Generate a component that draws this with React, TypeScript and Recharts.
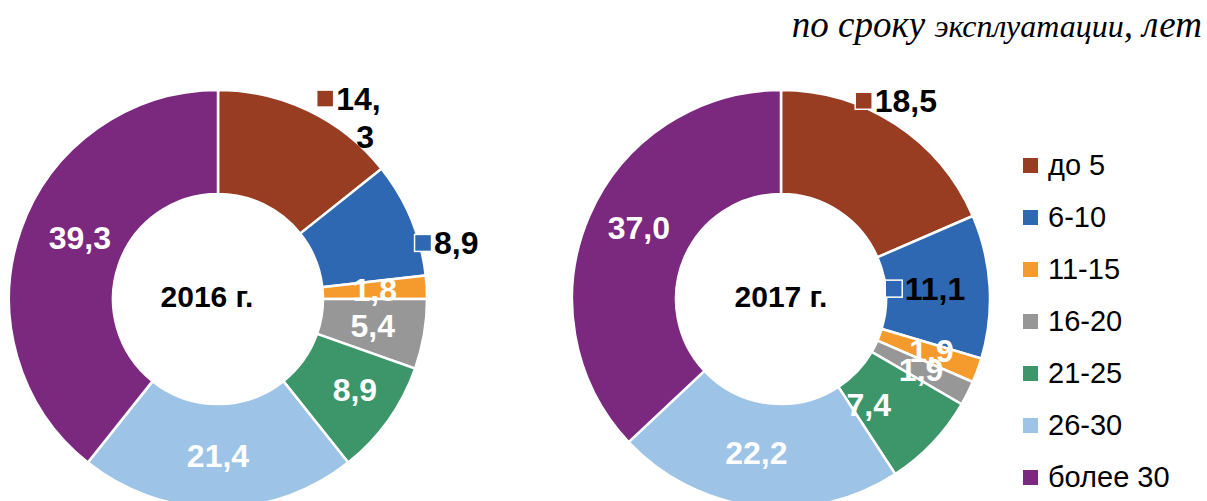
import React from 'react';
import { PieChart, Pie, Cell, Legend } from 'recharts';

const categories = ['до 5', '6-10', '11-15', '16-20', '21-25', '26-30', 'более 30'];
const values2016 = [14.3, 8.9, 1.8, 5.4, 8.9, 21.4, 39.3];
const values2017 = [18.5, 11.1, 1.9, 1.9, 7.4, 22.2, 37.0];
const years = ['2016 г.', '2017 г.'];
const colors = ['#993D22', '#2E67B2', '#F59A2D', '#979797', '#3C9669', '#9DC3E6', '#7B287F'];

const data2016 = categories.map((name, i) => ({ name, value: values2016[i] }));
const data2017 = categories.map((name, i) => ({ name, value: values2017[i] }));

// how each data label is drawn: white inside, or black with a key square (Excel style)
type LabelCfg = { out?: boolean; dx?: number; dy?: number; wrap?: boolean };
const labels2016: LabelCfg[] = [
  { out: true, dx: 39, dy: -59, wrap: true },
  { out: true, dx: 60, dy: 4 },
  {},
  {},
  { dx: 9 },
  {},
  { dx: 10, dy: -9 },
];
const labels2017: LabelCfg[] = [
  { out: true, dx: -3.5, dy: -67 },
  { out: true, dx: -44, dy: -1 },
  { dx: 3, dy: -2 },
  {},
  { dx: -26, dy: -2 },
  { dx: -6, dy: -2 },
  { dx: 2, dy: -9 },
];

const FONT = "'Liberation Sans', Arial, sans-serif";
const LABEL_SIZE = 32;
const RADIAN = Math.PI / 180;
const fmt = (v: number) => v.toFixed(1).replace('.', ',');

const makeLabel = (cfg: LabelCfg[], title: string, titleDx: number) => (props: any) => {
  const { cx, cy, midAngle, innerRadius, outerRadius, index, value } = props;
  const r = (innerRadius + outerRadius) / 2;
  const c = cfg[index] || {};
  const px = cx + r * Math.cos(-midAngle * RADIAN) + (c.dx || 0);
  const py = cy + r * Math.sin(-midAngle * RADIAN) + (c.dy || 0);
  const text = fmt(value);
  let mark;
  if (c.out) {
    const tx = px + 11;
    if (c.wrap) {
      const [a, b] = text.split(',');
      mark = (
        <g>
          <rect x={px - 8.5} y={py - 8.5} width={17} height={17} fill={colors[index]} stroke="#fff" strokeWidth={1.5} />
          <text x={tx} y={py} fontFamily={FONT} fontWeight="bold" fontSize={LABEL_SIZE} fill="#000" dominantBaseline="central">{a + ','}</text>
          <text x={tx + 29} y={py + 38} fontFamily={FONT} fontWeight="bold" fontSize={LABEL_SIZE} fill="#000" textAnchor="middle" dominantBaseline="central">{b}</text>
        </g>
      );
    } else {
      mark = (
        <g>
          <rect x={px - 8.5} y={py - 8.5} width={17} height={17} fill={colors[index]} stroke="#fff" strokeWidth={1.5} />
          <text x={tx} y={py} fontFamily={FONT} fontWeight="bold" fontSize={LABEL_SIZE} fill="#000" dominantBaseline="central">{text}</text>
        </g>
      );
    }
  } else {
    mark = (
      <text x={px} y={py} fontFamily={FONT} fontWeight="bold" fontSize={LABEL_SIZE} fill="#fff" textAnchor="middle" dominantBaseline="central">{text}</text>
    );
  }
  if (index === 0) {
    return (
      <g>
        <text x={cx + titleDx} y={cy - 3} fontFamily={FONT} fontWeight="bold" fontSize={30} fill="#000" textAnchor="middle" dominantBaseline="central">{title}</text>
        {mark}
      </g>
    );
  }
  return mark;
};

const LegendBox = () => (
  <div style={{ fontFamily: FONT, fontSize: 29, color: '#000' }}>
    {categories.map((name, i) => (
      <div key={name} style={{ height: 52, display: 'flex', alignItems: 'center' }}>
        <span style={{ display: 'inline-block', width: 15, height: 15, background: colors[i], marginLeft: 1, marginRight: 10 }} />
        <span>{name}</span>
      </div>
    ))}
  </div>
);

const App: React.FC = () => {
  return (
    <div style={{ position: 'absolute', left: 0, top: 0, width: 1207, height: 501, background: '#fff', overflow: 'hidden' }}>
      <div style={{ position: 'absolute', right: 5, top: 3, fontFamily: "'Liberation Serif', 'Times New Roman', serif", fontStyle: 'italic', fontSize: 37, whiteSpace: 'nowrap' }}>
        по сроку <span style={{ fontSize: 32 }}>эксплуатации</span>, лет
      </div>
      <PieChart width={1207} height={501} margin={{ top: 0, right: 0, bottom: 0, left: 0 }} style={{ position: 'absolute', left: 0, top: 0 }}>
        <Pie
          data={data2016}
          dataKey="value"
          nameKey="name"
          cx={218}
          cy={299}
          innerRadius={105}
          outerRadius={209}
          startAngle={90}
          endAngle={-270}
          stroke="#fff"
          strokeWidth={2.5}
          labelLine={false}
          label={makeLabel(labels2016, years[0], -11)}
          isAnimationActive={false}
        >
          {data2016.map((d, i) => <Cell key={d.name} fill={colors[i]} />)}
        </Pie>
        <Pie
          data={data2017}
          dataKey="value"
          nameKey="name"
          cx={781}
          cy={299}
          innerRadius={105}
          outerRadius={209}
          startAngle={90}
          endAngle={-270}
          stroke="#fff"
          strokeWidth={2.5}
          labelLine={false}
          label={makeLabel(labels2017, years[1], 0)}
          legendType="none"
          isAnimationActive={false}
        >
          {data2017.map((d, i) => <Cell key={d.name} fill={colors[i]} />)}
        </Pie>
        <Legend
          layout="vertical"
          align="right"
          verticalAlign="top"
          content={() => <LegendBox />}
          wrapperStyle={{ position: 'absolute', left: 1022, top: 139, width: 185 }}
        />
      </PieChart>
    </div>
  );
};

export default App;
